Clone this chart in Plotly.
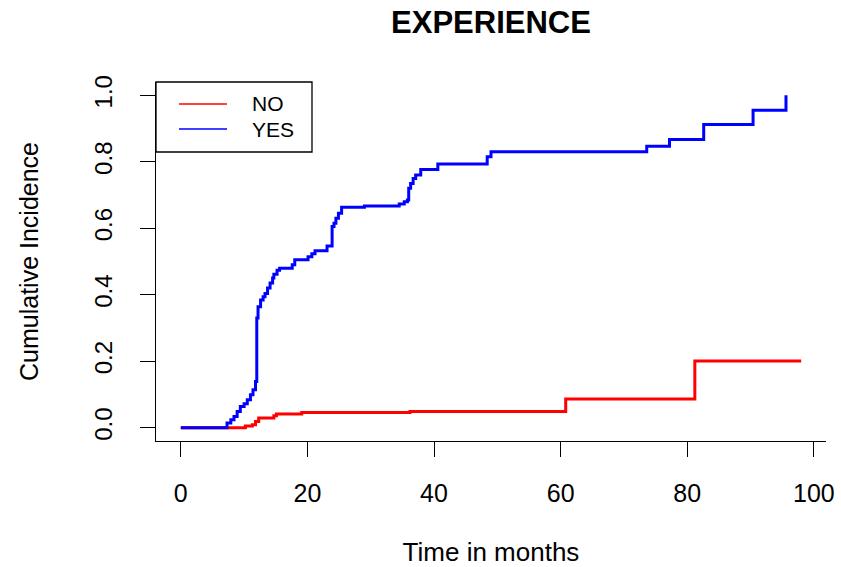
import plotly.graph_objects as go

# ---- data ----
# Cumulative incidence, group NO (red)
no_time = [0, 6.8, 10.2, 11.3, 11.8, 12.3, 14.7, 15.1, 19.1, 36.2, 60.8, 81.2, 98.0]
no_cif = [0, 0, 0.005, 0.009, 0.019, 0.029, 0.036, 0.041, 0.046, 0.049, 0.086, 0.201, 0.201]

# Cumulative incidence, group YES (blue)
yes_time = [0, 6.8, 7.3, 7.9, 8.4, 8.9, 9.4, 10.0, 10.5, 11.0, 11.4, 11.8, 12.0,
            12.2, 12.6, 13.0, 13.3, 13.7, 14.1, 14.5, 14.7, 15.2, 15.6, 17.6, 18.0,
            20.1, 20.7, 21.2, 23.1, 23.9, 24.2, 24.5, 24.9, 25.4, 29.0, 34.5, 35.3,
            35.8, 36.0, 36.3, 36.7, 37.1, 37.9, 40.6, 48.4, 49.0, 73.6, 77.2, 82.6,
            90.4, 95.6]
yes_cif = [0, 0, 0.014, 0.024, 0.034, 0.049, 0.064, 0.072, 0.084, 0.099, 0.114, 0.139, 0.33,
           0.364, 0.384, 0.394, 0.404, 0.42, 0.435, 0.45, 0.462, 0.474, 0.48, 0.49, 0.505,
           0.514, 0.523, 0.532, 0.547, 0.605, 0.615, 0.63, 0.645, 0.663, 0.667, 0.673, 0.68,
           0.685, 0.72, 0.735, 0.75, 0.76, 0.777, 0.793, 0.815, 0.83, 0.847, 0.867, 0.912,
           0.955, 1.0]

series_names = ["NO", "YES"]
series_colors = ["#FF0000", "#0000FF"]

x_ticks = [0, 20, 40, 60, 80, 100]
y_ticks = [0.0, 0.2, 0.4, 0.6, 0.8, 1.0]
y_tick_labels = ["0.0", "0.2", "0.4", "0.6", "0.8", "1.0"]

FONT = "Liberation Sans, Arial, sans-serif"
W, H = 841, 567
ML, MR, MT, MB = 156, 15, 82, 126
PW, PH = W - ML - MR, H - MT - MB


def px_x(p):
    return p / PW


def px_y(p):
    return 1 - p / PH


fig = go.Figure()
for name, color, t, v in [(series_names[0], series_colors[0], no_time, no_cif),
                          (series_names[1], series_colors[1], yes_time, yes_cif)]:
    fig.add_trace(go.Scatter(x=t, y=v, mode="lines", name=name, showlegend=False,
                             line=dict(color=color, width=3, shape="hv")))

# legend box drawn R-style (box at top-left corner of plot region)
shapes = [dict(type="rect", xref="paper", yref="paper",
               x0=px_x(0), x1=px_x(156), y0=px_y(70), y1=px_y(0),
               line=dict(color="black", width=1.3), fillcolor="white", layer="above")]
annotations = []
for i, (name, color) in enumerate(zip(series_names, series_colors)):
    yc = 22 + i * 25
    shapes.append(dict(type="line", xref="paper", yref="paper",
                       x0=px_x(23), x1=px_x(71), y0=px_y(yc), y1=px_y(yc),
                       line=dict(color=color, width=1.5), layer="above"))
    annotations.append(dict(text=name, xref="paper", yref="paper",
                            x=px_x(94), y=px_y(yc), xanchor="left", yanchor="middle",
                            showarrow=False,
                            font=dict(family=FONT, size=21, color="black")))

fig.update_layout(
    width=W, height=H,
    margin=dict(l=ML, r=MR, t=MT, b=MB),
    paper_bgcolor="white", plot_bgcolor="white",
    font=dict(family=FONT, color="black", size=24),
    title=dict(text="<b>EXPERIENCE</b>", x=(ML + PW / 2) / W, xanchor="center",
               y=1 - 22 / H, yanchor="middle",
               font=dict(family=FONT, size=31, color="black")),
    showlegend=False,
    shapes=shapes,
    annotations=annotations,
)

fig.update_xaxes(
    range=[-3.92, 101.92], tickvals=x_ticks, ticktext=[str(v) for v in x_ticks],
    showline=True, linecolor="black", linewidth=1, mirror=False,
    ticks="outside", ticklen=15, tickwidth=1, tickcolor="black",
    showgrid=False, zeroline=False, automargin=False,
    tickfont=dict(family=FONT, size=25, color="black"),
    ticklabelstandoff=15,
    title=dict(text="Time in months", font=dict(family=FONT, size=26, color="black"),
               standoff=36),
)
fig.update_yaxes(
    range=[-0.04, 1.04], tickvals=y_ticks, ticktext=y_tick_labels,
    showline=True, linecolor="black", linewidth=1, mirror=False,
    ticks="outside", ticklen=15, tickwidth=1, tickcolor="black",
    showgrid=False, zeroline=False, tickangle=-90, automargin=False,
    tickfont=dict(family=FONT, size=24, color="black"),
    ticklabelstandoff=18,
    title=dict(text="Cumulative Incidence", font=dict(family=FONT, size=25, color="black"),
               standoff=44),
)

fig.write_html("out.html")
